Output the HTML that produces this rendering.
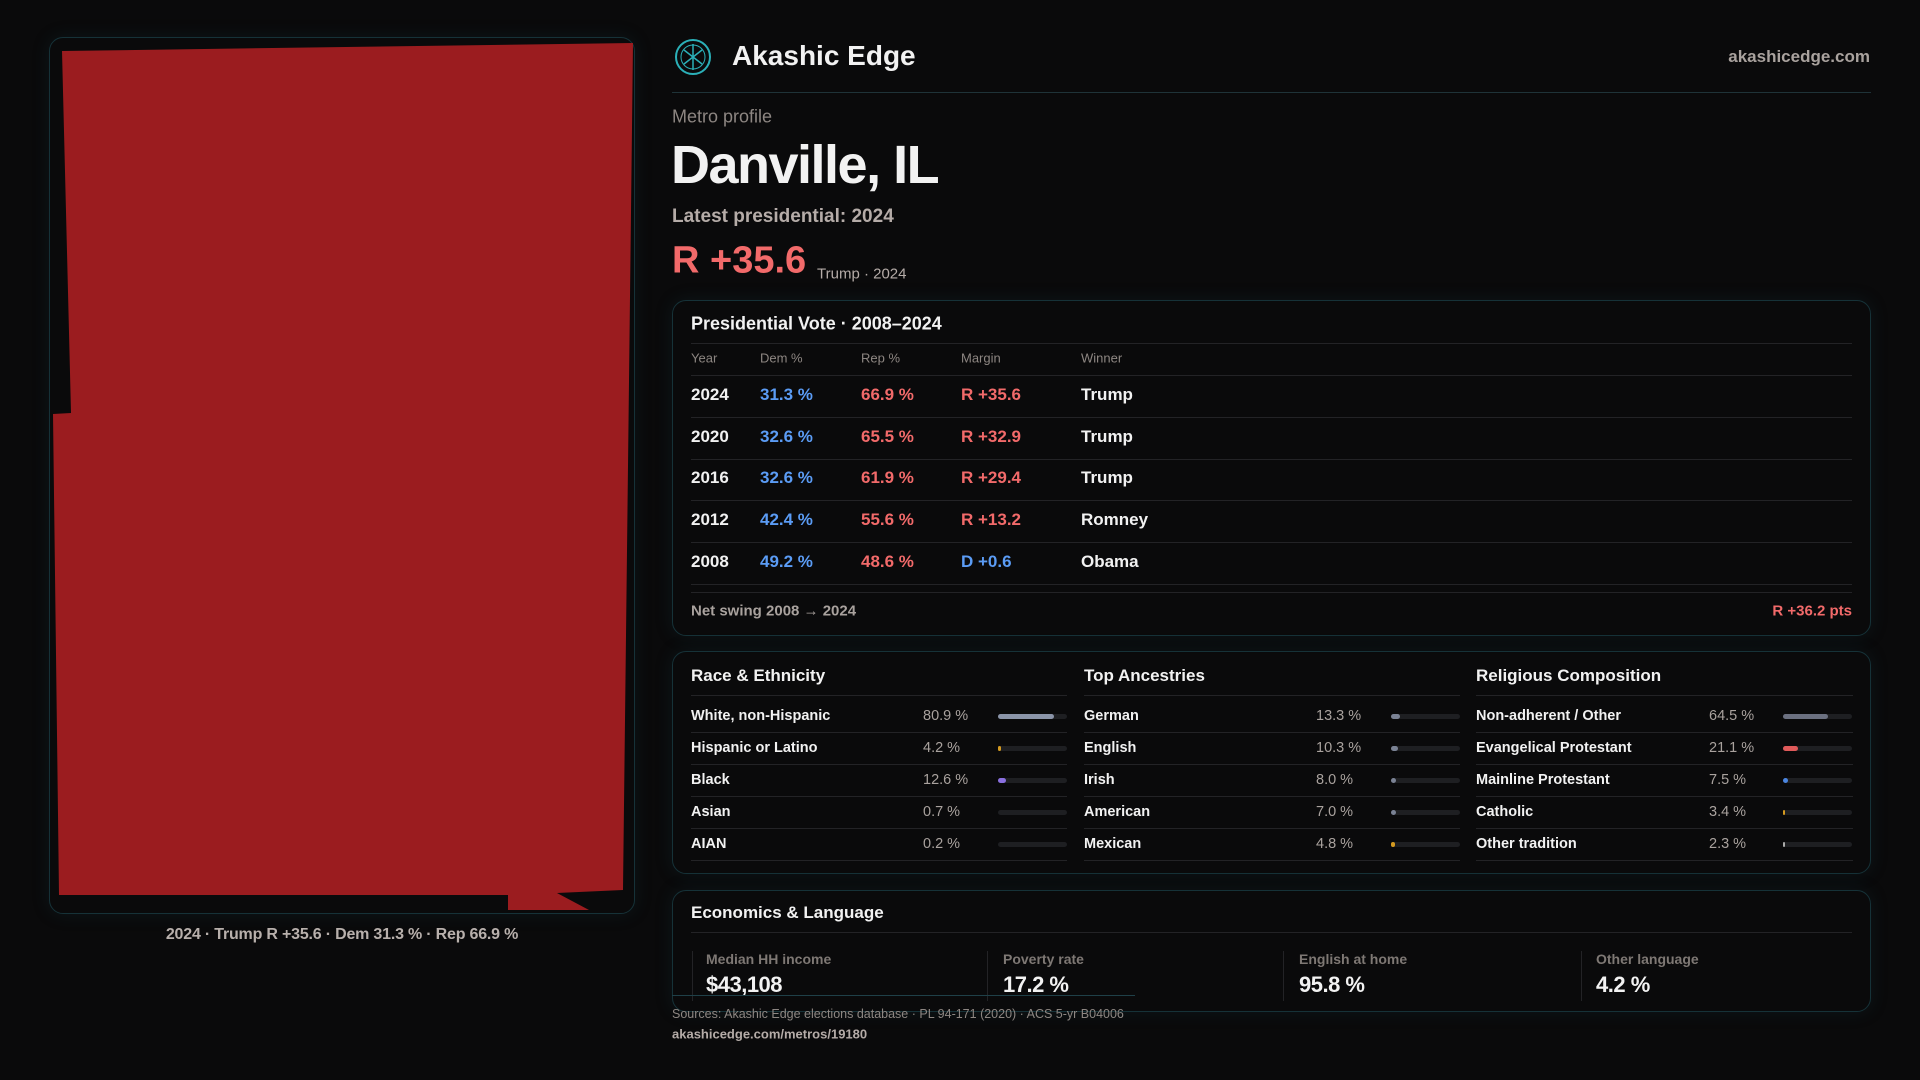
<!DOCTYPE html><html><head><meta charset="utf-8"><style>
*{margin:0;padding:0;box-sizing:border-box}
body{width:1920px;height:1080px;background:#0a0a0b;font-family:"Liberation Sans",sans-serif;color:#f2f2f2;position:relative;overflow:hidden}
.a{position:absolute;white-space:nowrap}
.panel{position:absolute;border:1px solid #163238;border-radius:14px;box-shadow:0 0 18px rgba(30,80,90,.18)}
.hl{position:absolute;height:1px;background:#232326}
.g{color:#8d8682}
.b{color:#5b9cf5}.r{color:#f26a6a}
.row{font-size:17px;font-weight:bold;transform:translateY(-50%)}
.bar{position:absolute;height:5px;border-radius:3px;background:#1e1f22;width:69px}
.bar i{position:absolute;left:0;top:0;height:5px;border-radius:3px}
.dl{font-size:14.5px;font-weight:bold;transform:translateY(-50%)}
.dv{font-size:14.5px;color:#a9a29e;transform:translateY(-50%)}
</style></head><body>
<div class="panel" style="left:49px;top:37px;width:586px;height:877px"></div>
<svg class="a" style="left:0;top:0" width="700" height="930"><polygon fill="#9b1c1f" points="62,51 633,43 623,890 557,893 589,910 508,910 508,895 59,895 53,414 71,413"/></svg>
<div class="a" style="left:342px;top:935px;transform:translate(-50%,-50%);font-size:16px;font-weight:bold;color:#b8b0ac;letter-spacing:-0.2px">2024 · Trump R +35.6 · Dem 31.3 % · Rep 66.9 %</div>

<svg class="a" style="left:674px;top:38px" width="38" height="38"><circle cx="19" cy="19" r="17" fill="none" stroke="#2bb0b8" stroke-width="2"/><circle cx="19" cy="19" r="12" fill="none" stroke="#2bb0b8" stroke-width="1"/><path d="M19 6 L19 32 M10 12 L28 26 M28 12 L10 26" stroke="#2bb0b8" stroke-width="1.5"/></svg>
<div class="a" style="left:732px;top:56px;transform:translateY(-50%);font-size:28px;font-weight:bold">Akashic Edge</div>
<div class="a" style="right:50px;top:57px;transform:translateY(-50%);font-size:17px;font-weight:bold;color:#a9a29e">akashicedge.com</div>
<div class="a" style="left:672px;top:92px;width:1199px;height:1px;background:#1f3338"></div>
<div class="a g" style="left:672px;top:117px;transform:translateY(-50%);font-size:18px">Metro profile</div>
<div class="a" style="left:671px;top:165px;transform:translateY(-50%);font-size:54px;font-weight:bold;letter-spacing:-1.5px">Danville, IL</div>
<div class="a" style="left:672px;top:217px;transform:translateY(-50%);font-size:19px;font-weight:bold;color:#b5aca8">Latest presidential: 2024</div>
<div class="a r" style="left:672px;top:261px;transform:translateY(-50%);font-size:38px;font-weight:bold">R +35.6</div>
<div class="a" style="left:817px;top:274px;transform:translateY(-50%);font-size:15px;color:#b5aca8">Trump · 2024</div>

<div class="panel" style="left:672px;top:300px;width:1199px;height:336px"></div>
<div class="a" style="left:691px;top:324px;transform:translateY(-50%);font-size:18px;font-weight:bold">Presidential Vote · 2008–2024</div>
<div class="hl" style="left:691px;top:343px;width:1161px"></div>
<div class="a g" style="left:691px;top:358px;transform:translateY(-50%);font-size:13px">Year</div>
<div class="a g" style="left:760px;top:358px;transform:translateY(-50%);font-size:13px">Dem %</div>
<div class="a g" style="left:861px;top:358px;transform:translateY(-50%);font-size:13px">Rep %</div>
<div class="a g" style="left:961px;top:358px;transform:translateY(-50%);font-size:13px">Margin</div>
<div class="a g" style="left:1081px;top:358px;transform:translateY(-50%);font-size:13px">Winner</div>
<div class="hl" style="left:691px;top:375px;width:1161px"></div>
<div class="hl" style="left:691px;top:417px;width:1161px"></div>
<div class="hl" style="left:691px;top:459px;width:1161px"></div>
<div class="hl" style="left:691px;top:500px;width:1161px"></div>
<div class="hl" style="left:691px;top:542px;width:1161px"></div>
<div class="hl" style="left:691px;top:584px;width:1161px"></div>
<div class="a row" style="left:691px;top:395px">2024</div><div class="a row b" style="left:760px;top:395px">31.3 %</div><div class="a row r" style="left:861px;top:395px">66.9 %</div><div class="a row r" style="left:961px;top:395px">R +35.6</div><div class="a row" style="left:1081px;top:395px">Trump</div>
<div class="a row" style="left:691px;top:437px">2020</div><div class="a row b" style="left:760px;top:437px">32.6 %</div><div class="a row r" style="left:861px;top:437px">65.5 %</div><div class="a row r" style="left:961px;top:437px">R +32.9</div><div class="a row" style="left:1081px;top:437px">Trump</div>
<div class="a row" style="left:691px;top:478px">2016</div><div class="a row b" style="left:760px;top:478px">32.6 %</div><div class="a row r" style="left:861px;top:478px">61.9 %</div><div class="a row r" style="left:961px;top:478px">R +29.4</div><div class="a row" style="left:1081px;top:478px">Trump</div>
<div class="a row" style="left:691px;top:520px">2012</div><div class="a row b" style="left:760px;top:520px">42.4 %</div><div class="a row r" style="left:861px;top:520px">55.6 %</div><div class="a row r" style="left:961px;top:520px">R +13.2</div><div class="a row" style="left:1081px;top:520px">Romney</div>
<div class="a row" style="left:691px;top:562px">2008</div><div class="a row b" style="left:760px;top:562px">49.2 %</div><div class="a row r" style="left:861px;top:562px">48.6 %</div><div class="a row b" style="left:961px;top:562px">D +0.6</div><div class="a row" style="left:1081px;top:562px">Obama</div>
<div class="hl" style="left:691px;top:592px;width:1161px"></div>
<div class="a" style="left:691px;top:611px;transform:translateY(-50%);font-size:15px;font-weight:bold;color:#a9a29e">Net swing 2008 → 2024</div>
<div class="a r" style="right:68px;top:611px;transform:translateY(-50%);font-size:15px;font-weight:bold">R +36.2 pts</div>

<div class="panel" style="left:672px;top:651px;width:1199px;height:223px"></div>
<div class="a" style="left:691px;top:676px;transform:translateY(-50%);font-size:17px;font-weight:bold">Race &amp; Ethnicity</div>
<div class="a" style="left:1084px;top:676px;transform:translateY(-50%);font-size:17px;font-weight:bold">Top Ancestries</div>
<div class="a" style="left:1476px;top:676px;transform:translateY(-50%);font-size:17px;font-weight:bold">Religious Composition</div>
<div class="hl" style="left:691px;top:695px;width:376px"></div><div class="hl" style="left:1084px;top:695px;width:376px"></div><div class="hl" style="left:1476px;top:695px;width:377px"></div>
<div class="hl" style="left:691px;top:732px;width:376px"></div><div class="hl" style="left:1084px;top:732px;width:376px"></div><div class="hl" style="left:1476px;top:732px;width:377px"></div>
<div class="hl" style="left:691px;top:764px;width:376px"></div><div class="hl" style="left:1084px;top:764px;width:376px"></div><div class="hl" style="left:1476px;top:764px;width:377px"></div>
<div class="hl" style="left:691px;top:796px;width:376px"></div><div class="hl" style="left:1084px;top:796px;width:376px"></div><div class="hl" style="left:1476px;top:796px;width:377px"></div>
<div class="hl" style="left:691px;top:828px;width:376px"></div><div class="hl" style="left:1084px;top:828px;width:376px"></div><div class="hl" style="left:1476px;top:828px;width:377px"></div>
<div class="hl" style="left:691px;top:860px;width:376px"></div><div class="hl" style="left:1084px;top:860px;width:376px"></div><div class="hl" style="left:1476px;top:860px;width:377px"></div>

<div class="a dl" style="left:691px;top:716px">White, non-Hispanic</div><div class="a dv" style="left:923px;top:716px">80.9 %</div><div class="bar" style="left:998px;top:714px"><i style="width:56px;background:#8a94a8"></i></div>
<div class="a dl" style="left:691px;top:748px">Hispanic or Latino</div><div class="a dv" style="left:923px;top:748px">4.2 %</div><div class="bar" style="left:998px;top:746px"><i style="width:3px;background:#d49a20"></i></div>
<div class="a dl" style="left:691px;top:780px">Black</div><div class="a dv" style="left:923px;top:780px">12.6 %</div><div class="bar" style="left:998px;top:778px"><i style="width:8px;background:#8a70e0"></i></div>
<div class="a dl" style="left:691px;top:812px">Asian</div><div class="a dv" style="left:923px;top:812px">0.7 %</div><div class="bar" style="left:998px;top:810px"></div>
<div class="a dl" style="left:691px;top:844px">AIAN</div><div class="a dv" style="left:923px;top:844px">0.2 %</div><div class="bar" style="left:998px;top:842px"></div>

<div class="a dl" style="left:1084px;top:716px">German</div><div class="a dv" style="left:1316px;top:716px">13.3 %</div><div class="bar" style="left:1391px;top:714px"><i style="width:9px;background:#7a8294"></i></div>
<div class="a dl" style="left:1084px;top:748px">English</div><div class="a dv" style="left:1316px;top:748px">10.3 %</div><div class="bar" style="left:1391px;top:746px"><i style="width:7px;background:#7a8294"></i></div>
<div class="a dl" style="left:1084px;top:780px">Irish</div><div class="a dv" style="left:1316px;top:780px">8.0 %</div><div class="bar" style="left:1391px;top:778px"><i style="width:5px;background:#7a8294"></i></div>
<div class="a dl" style="left:1084px;top:812px">American</div><div class="a dv" style="left:1316px;top:812px">7.0 %</div><div class="bar" style="left:1391px;top:810px"><i style="width:5px;background:#7a8294"></i></div>
<div class="a dl" style="left:1084px;top:844px">Mexican</div><div class="a dv" style="left:1316px;top:844px">4.8 %</div><div class="bar" style="left:1391px;top:842px"><i style="width:4px;background:#d49a20"></i></div>

<div class="a dl" style="left:1476px;top:716px">Non-adherent / Other</div><div class="a dv" style="left:1709px;top:716px">64.5 %</div><div class="bar" style="left:1783px;top:714px"><i style="width:45px;background:#6b7080"></i></div>
<div class="a dl" style="left:1476px;top:748px">Evangelical Protestant</div><div class="a dv" style="left:1709px;top:748px">21.1 %</div><div class="bar" style="left:1783px;top:746px"><i style="width:15px;background:#e05a5a"></i></div>
<div class="a dl" style="left:1476px;top:780px">Mainline Protestant</div><div class="a dv" style="left:1709px;top:780px">7.5 %</div><div class="bar" style="left:1783px;top:778px"><i style="width:5px;background:#4a85e0"></i></div>
<div class="a dl" style="left:1476px;top:812px">Catholic</div><div class="a dv" style="left:1709px;top:812px">3.4 %</div><div class="bar" style="left:1783px;top:810px"><i style="width:2px;background:#d49a20"></i></div>
<div class="a dl" style="left:1476px;top:844px">Other tradition</div><div class="a dv" style="left:1709px;top:844px">2.3 %</div><div class="bar" style="left:1783px;top:842px"><i style="width:2px;background:#aaa"></i></div>

<div class="panel" style="left:672px;top:890px;width:1199px;height:122px"></div>
<div class="a" style="left:691px;top:913px;transform:translateY(-50%);font-size:17px;font-weight:bold">Economics &amp; Language</div>
<div class="hl" style="left:691px;top:932px;width:1161px"></div>
<div class="a" style="left:692px;top:951px;width:1px;height:50px;background:#232326"></div>
<div class="a" style="left:987px;top:951px;width:1px;height:50px;background:#232326"></div>
<div class="a" style="left:1283px;top:951px;width:1px;height:50px;background:#232326"></div>
<div class="a" style="left:1581px;top:951px;width:1px;height:50px;background:#232326"></div>
<div class="a g" style="left:706px;top:959px;transform:translateY(-50%);font-size:14px;font-weight:bold;color:#7e7874">Median HH income</div>
<div class="a g" style="left:1003px;top:959px;transform:translateY(-50%);font-size:14px;font-weight:bold;color:#7e7874">Poverty rate</div>
<div class="a g" style="left:1299px;top:959px;transform:translateY(-50%);font-size:14px;font-weight:bold;color:#7e7874">English at home</div>
<div class="a g" style="left:1596px;top:959px;transform:translateY(-50%);font-size:14px;font-weight:bold;color:#7e7874">Other language</div>
<div class="a" style="left:706px;top:985px;transform:translateY(-50%);font-size:22px;font-weight:bold;letter-spacing:-0.5px">$43,108</div>
<div class="a" style="left:1003px;top:985px;transform:translateY(-50%);font-size:22px;font-weight:bold;letter-spacing:-0.5px">17.2 %</div>
<div class="a" style="left:1299px;top:985px;transform:translateY(-50%);font-size:22px;font-weight:bold;letter-spacing:-0.5px">95.8 %</div>
<div class="a" style="left:1596px;top:985px;transform:translateY(-50%);font-size:22px;font-weight:bold;letter-spacing:-0.5px">4.2 %</div>
<div class="a" style="left:672px;top:995px;width:463px;height:1px;background:#1f4048"></div>
<div class="a" style="left:672px;top:1014px;transform:translateY(-50%);font-size:12.5px;color:#8d8682">Sources: Akashic Edge elections database · PL 94-171 (2020) · ACS 5-yr B04006</div>
<div class="a" style="left:672px;top:1034px;transform:translateY(-50%);font-size:13px;font-weight:bold;color:#b5aca8">akashicedge.com/metros/19180</div>
</body></html>
